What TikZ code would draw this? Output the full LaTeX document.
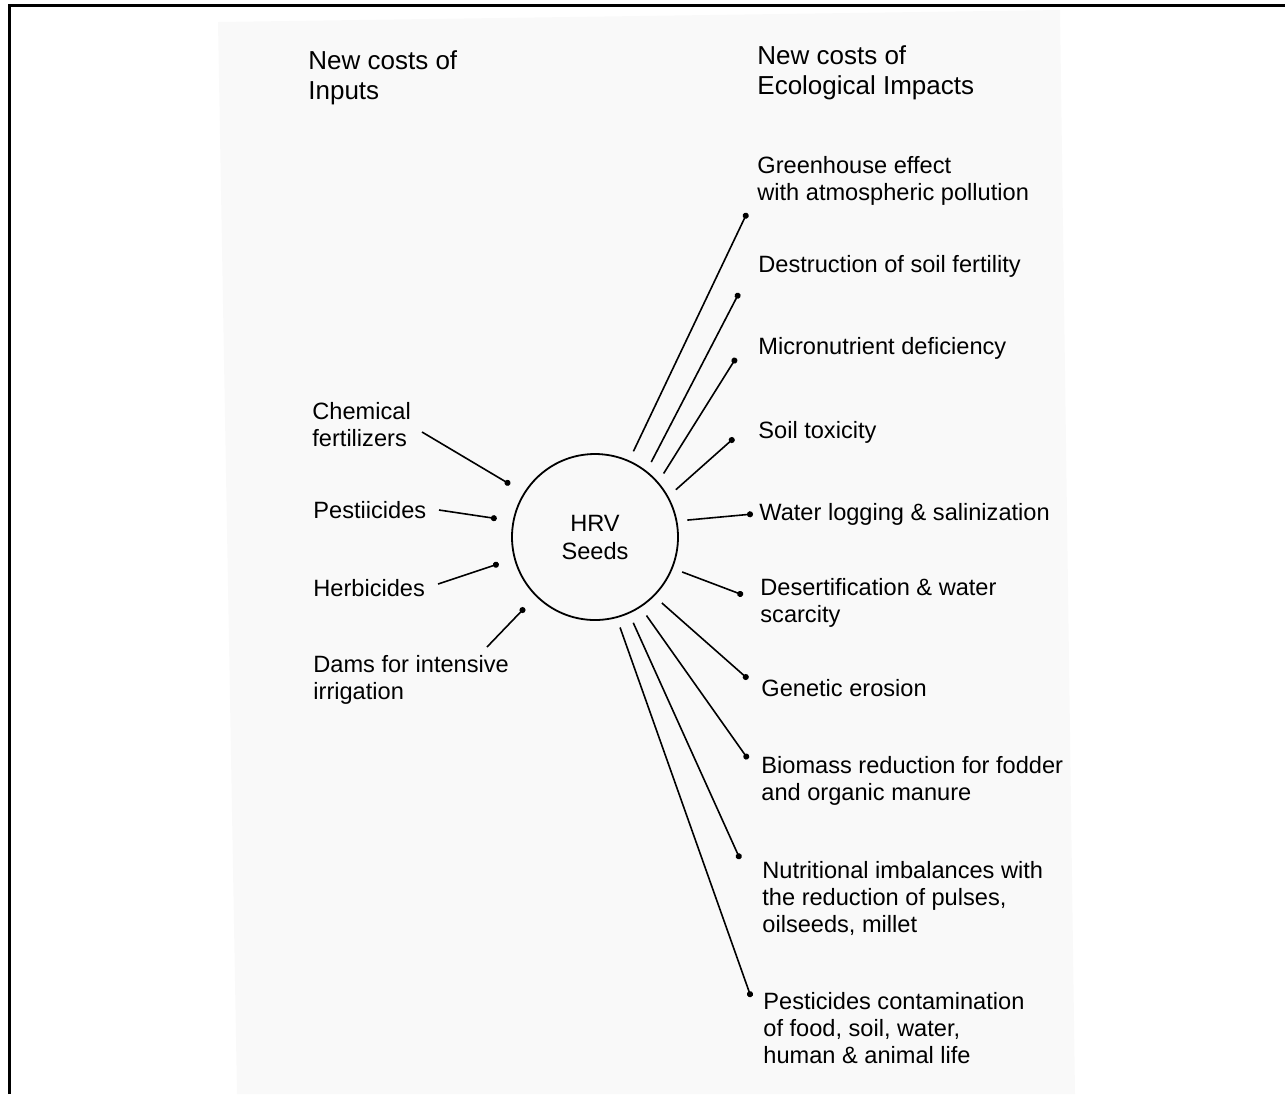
\documentclass[tikz,border=0pt]{standalone}
\usepackage{fontspec}
\setmainfont{Liberation Sans}
\definecolor{white(scan)}{rgb}{0.976, 0.976, 0.976}
\usetikzlibrary{arrows.meta}

\begin{document}
\begin{tikzpicture}[x=0.5pt,y=-0.5pt,
	item/.style={anchor=base west,align=left,inner sep=0pt,font=\fontsize{11.8pt}{13.3pt}\selectfont},
	head/.style={item,font=\fontsize{13pt}{14.6pt}\selectfont},
	seed/.style={circle,draw,line width=0.9pt,minimum size=83pt,inner sep=0pt,align=center,font=\fontsize{11.8pt}{14pt}\selectfont},
	link/.style={line width=0.8pt,-{Circle[length=3pt]}},
	feed/.style={link,shorten >=8pt},
	ray/.style={link,shorten <=5pt}]
	\useasboundingbox (0,0) rectangle (1285,1094);
	\fill[white(scan)] (218,22) -- (1060,10) -- (1075,1094) -- (237,1094) -- cycle;
	\draw[line width=1.5pt] (9,1094) -- (9,5) -- (1285,5);

	% anchors sit on the last line
	\node[head] (inhead) at (308,99) {New costs of\\Inputs};
	\node[head] (ecohead) at (757,94) {New costs of\\Ecological Impacts};
	\node[seed] (hrv) at (595,537) {HRV\\Seeds};

	\node[item] (chem) at (312,446) {Chemical\\fertilizers};
	\node[item] (pest) at (313,518) {Pestiicides};
	\node[item] (herb) at (313,596) {Herbicides};
	\node[item] (dams) at (313,699) {Dams for intensive\\irrigation};

	\node[item] (green) at (757,200) {Greenhouse effect\\with atmospheric pollution};
	\node[item] (fert) at (758,272) {Destruction of soil fertility};
	\node[item] (micro) at (758,354) {Micronutrient deficiency};
	\node[item] (toxic) at (758,438) {Soil toxicity};
	\node[item] (water) at (759,520) {Water logging \& salinization};
	\node[item] (desert) at (760,622) {Desertification \& water\\scarcity};
	\node[item] (genetic) at (761,696) {Genetic erosion};
	\node[item] (biomass) at (761,800) {Biomass reduction for fodder\\and organic manure};
	\node[item] (nutri) at (762,932) {Nutritional imbalances with\\the reduction of pulses,\\oilseeds, millet};
	\node[item] (contam) at (763,1063) {Pesticides contamination\\of food, soil, water,\\human \& animal life};

	% inputs
	\coordinate (chem-s) at (422,432);
	\coordinate (pest-s) at (439,510);
	\coordinate (herb-s) at (438,584);
	\coordinate (dams-s) at (487,647);
	\draw[feed] (chem-s) -- (hrv.148);
	\draw[feed] (pest-s) -- (hrv.169);
	\draw[feed] (herb-s) -- (hrv.195);
	\draw[feed] (dams-s) -- (hrv.225);

	% impacts
	\coordinate (green-e) at (747,213);
	\coordinate (fert-e) at (739,293);
	\coordinate (micro-e) at (736,358);
	\coordinate (toxic-e) at (734,438);
	\coordinate (water-e) at (753,514);
	\coordinate (desert-e) at (743,595);
	\coordinate (genetic-e) at (748,679);
	\coordinate (biomass-e) at (748,759);
	\coordinate (nutri-e) at (740,859);
	\coordinate (contam-e) at (751,997);
	\draw[ray] (hrv.66) -- (green-e);
	\draw[ray] (hrv.52) -- (fert-e);
	\draw[ray] (hrv.41) -- (micro-e);
	\draw[ray] (hrv.29) -- (toxic-e);
	\draw[ray] (hrv.11) -- (water-e);
	\draw[ray] (hrv.-22) -- (desert-e);
	\draw[ray] (hrv.-45) -- (genetic-e);
	\draw[ray] (hrv.-57) -- (biomass-e);
	\draw[ray] (hrv.-66) -- (nutri-e);
	\draw[ray] (hrv.-75) -- (contam-e);
\end{tikzpicture}
\end{document}
